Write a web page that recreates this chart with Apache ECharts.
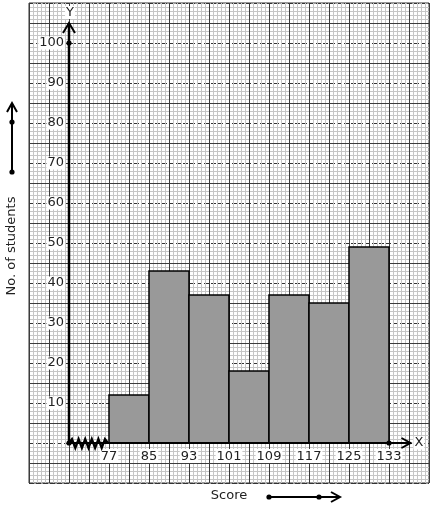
<!DOCTYPE html>
<html><head><meta charset="utf-8">
<style>html,body{margin:0;padding:0;background:#fff}#c{width:434px;height:510px}</style>
<script src="https://cdn.jsdelivr.net/npm/echarts/dist/echarts.min.js"></script>
</head><body><div id="c"></div>
<script>
// ---- data ----
const binEdges = [77, 85, 93, 101, 109, 117, 125, 133];
const counts = [12, 43, 37, 18, 37, 35, 49];
const xTickLabels = [77, 85, 93, 101, 109, 117, 125, 133];
const yTickLabels = [10, 20, 30, 40, 50, 60, 70, 80, 90, 100];
const xTitle = 'Score';
const yTitle = 'No. of students';

// ---- layout ----
const X_MIN = 61, X_MAX = 141, Y_MIN = -10, Y_MAX = 110, X_ORIGIN = 69;
const FONT = 'DejaVu Sans';

const bars = counts.map((c, i) => [binEdges[i], binEdges[i + 1], c]);
const solidMajors = [];
for (let v = Y_MIN + 5; v < Y_MAX; v += 10) solidMajors.push(v);

const chart = echarts.init(document.getElementById('c'), null, {renderer: 'canvas'});

const option = {
  animation: false,
  backgroundColor: '#fff',
  grid: {left: 29, top: 3, width: 400, height: 480, show: true, borderColor: '#333', borderWidth: 1},
  xAxis: {type: 'value', min: X_MIN, max: X_MAX, interval: 4, position: 'bottom', offset: -40, z: 0,
    axisLine: {show: false}, axisTick: {show: false},
    minorTick: {show: false, splitNumber: 5},
    splitLine: {show: true, lineStyle: {color: '#3c3c3c', width: 1}},
    minorSplitLine: {show: true, lineStyle: {color: '#c6c6c6', width: 1}},
    axisLabel: {customValues: xTickLabels, margin: 6, fontSize: 13, fontFamily: FONT, color: '#222',
      backgroundColor: '#fff', padding: [1, 1, 0, 1]}},
  yAxis: {type: 'value', min: Y_MIN, max: Y_MAX, interval: 10, position: 'left', offset: -40, z: 0,
    axisLine: {show: false}, axisTick: {show: false},
    minorTick: {show: false, splitNumber: 10},
    splitLine: {show: true, lineStyle: {color: '#333', width: 1, type: [5, 2]}},
    minorSplitLine: {show: true, lineStyle: {color: '#c6c6c6', width: 1}},
    axisLabel: {customValues: yTickLabels, margin: 4, fontSize: 13, fontFamily: FONT, color: '#222',
      backgroundColor: '#fff', padding: [0, 1, 0, 1]}},
  series: [
    {type: 'line', data: [], silent: true, z: 1,
      markLine: {silent: true, symbol: 'none', label: {show: false}, animation: false, z: 1,
        lineStyle: {color: '#3c3c3c', width: 1, type: 'solid'},
        data: solidMajors.map(v => ({yAxis: v}))}},
    {type: 'custom', data: bars, z: 10,
      encode: {x: [0, 1], y: 2},
      renderItem: function (params, api) {
        const p0 = api.coord([api.value(0), api.value(2)]);
        const p1 = api.coord([api.value(1), 0]);
        return {type: 'rect',
          shape: {x: p0[0], y: p0[1], width: p1[0] - p0[0], height: p1[1] - p0[1]},
          style: {fill: '#999999', stroke: '#000', lineWidth: 1.5}};
      }}
  ]
};
chart.setOption(option);

// ---- axis decorations (positions derived from the axis scales) ----
const px = (x, y) => chart.convertToPixel({gridIndex: 0}, [x, y]);
const o = px(X_ORIGIN, 0);
const yTop = px(X_ORIGIN, 105)[1];
const xEnd = px(137.3, 0)[0];
const p100 = px(X_ORIGIN, 100);
const p133 = px(binEdges[binEdges.length - 1], 0);
const dot = (x, y) => ({type: 'circle', shape: {cx: x, cy: y, r: 2.6}, style: {fill: '#000'}, z: 100});
const seg = (pts, w) => ({type: 'polyline', shape: {points: pts}, style: {stroke: '#000', lineWidth: w || 2.5, fill: null}, z: 100});

const zig = [];
const zx0 = o[0] + 3, zx1 = px(76.2, 0)[0];
const n = 10;
zig.push([o[0], o[1]]);
for (let i = 0; i <= n; i++) {
  const x = zx0 + (zx1 - zx0) * i / n;
  zig.push([x, o[1] + (i % 2 === 0 ? -4 : 5)]);
}
zig.push([zx1 + 3, o[1]]);

const txt = (x, y, s, extra) => ({type: 'text', x: x, y: y, z: 100,
  style: Object.assign({text: s, font: '13px ' + FONT, fill: '#222', align: 'center', verticalAlign: 'middle'}, extra || {})});

const graphics = [
  seg([[o[0], o[1]], [o[0], yTop]]),
  seg([[o[0] - 6, yTop + 10], [o[0], yTop], [o[0] + 6, yTop + 10]], 2),
  seg([[o[0], o[1]], [xEnd, o[1]]], 2),
  seg([[xEnd - 9, o[1] - 5], [xEnd, o[1]], [xEnd - 9, o[1] + 5]], 2),
  seg(zig, 2.2),
  dot(o[0], o[1]), dot(p100[0], p100[1]), dot(p133[0], p133[1]),
  txt(o[0] + 1, yTop - 4, 'Y', {verticalAlign: 'bottom', backgroundColor: '#fff', padding: [0, 1]}),
  txt(xEnd + 3, o[1], 'X', {align: 'left', backgroundColor: '#fff', padding: [0, 1]}),
  Object.assign(txt(12, 246, yTitle), {rotation: Math.PI / 2}),
  seg([[12, 172], [12, 104]], 2),
  seg([[7, 112], [12, 103], [17, 112]], 2),
  dot(12, 172), dot(12, 122),
  txt(229, 496, xTitle),
  seg([[269, 497], [339, 497]], 2),
  seg([[331, 492], [340, 497], [331, 502]], 2),
  dot(269, 497), dot(319, 497)
];
chart.setOption({graphic: graphics});
</script>
</body></html>
